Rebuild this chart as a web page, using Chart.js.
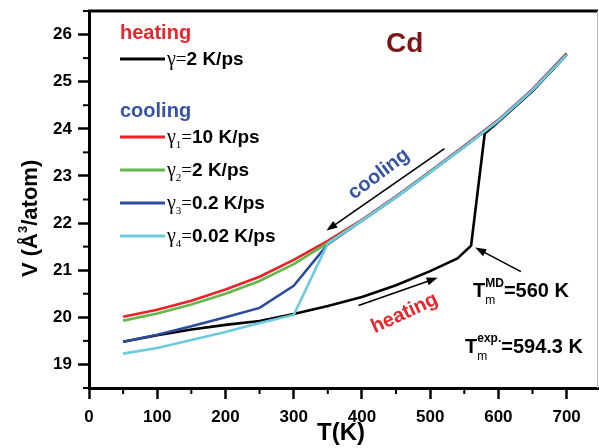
<!DOCTYPE html>
<html>
<head>
<meta charset="utf-8">
<script src="https://cdn.jsdelivr.net/npm/chart.js@4.4.0/dist/chart.umd.min.js"></script>
<style>
html, body { margin: 0; padding: 0; background: #fff; }
</style>
</head>
<body>
<canvas id="chart" width="599" height="448"></canvas>
<script>
// Cd volume vs temperature, heating and cooling runs
const X_TICKS = [0, 100, 200, 300, 400, 500, 600, 700];
const X_MINOR = [50, 150, 250, 350, 450, 550, 650];
const Y_TICKS = [19, 20, 21, 22, 23, 24, 25, 26];
const Y_MINOR = [18.5, 19.5, 20.5, 21.5, 22.5, 23.5, 24.5, 25.5, 26.5];

const T_HEAT = [50, 100, 150, 200, 250, 300, 350, 400, 450, 500, 540, 560, 580, 600, 650, 700];
const V_HEAT = [19.48, 19.62, 19.74, 19.84, 19.92, 20.07, 20.24, 20.43, 20.68, 20.98, 21.25, 21.52, 23.9, 24.15, 24.8, 25.57];

const T_COOL = [50, 100, 150, 200, 250, 300, 350, 400, 450, 500, 550, 600, 650, 700];
const V_RED = [20.01, 20.16, 20.35, 20.59, 20.86, 21.22, 21.62, 22.07, 22.57, 23.1, 23.64, 24.19, 24.84, 25.6];
const V_GREEN = [19.93, 20.08, 20.27, 20.5, 20.77, 21.13, 21.58, 22.05, 22.55, 23.08, 23.62, 24.17, 24.82, 25.58];
const V_BLUE = [19.48, 19.63, 19.81, 20.0, 20.2, 20.67, 21.55, 22.05, 22.55, 23.08, 23.62, 24.17, 24.82, 25.58];
const V_CYAN = [19.23, 19.35, 19.52, 19.69, 19.88, 20.05, 21.57, 22.05, 22.55, 23.08, 23.62, 24.17, 24.82, 25.57];

const LEGEND_SUBS = ["", "1", "2", "3", "4"];
const LEGEND_RATES = ["2 K/ps", "10 K/ps", "2 K/ps", "0.2 K/ps", "0.02 K/ps"];
const LEGEND_COLORS = ["#000000", "#ee2029", "#62b846", "#2c4b9d", "#6ccbdd"];

const FONT = "Arial, 'Liberation Sans', sans-serif";
const SERIF = "'Liberation Serif', 'Times New Roman', serif";
const RED_TXT = "#e8262d";
const BLUE_TXT = "#3753a6";

function pts(xs, ys) {
  return xs.map((x, i) => ({ x: x, y: ys[i] }));
}

function drawRich(ctx, x, y, parts) {
  parts.forEach((p) => {
    ctx.font = p.font;
    ctx.fillStyle = p.color || "#000";
    ctx.fillText(p.t, x, y + (p.dy || 0));
    if (!p.stay) x += ctx.measureText(p.t).width;
  });
  return x;
}

function arrow(ctx, x1, y1, x2, y2) {
  const a = Math.atan2(y2 - y1, x2 - x1);
  const len = 11, half = 4;
  ctx.strokeStyle = "#000";
  ctx.lineWidth = 1.6;
  ctx.beginPath();
  ctx.moveTo(x1, y1);
  ctx.lineTo(x2 - Math.cos(a) * len * 0.8, y2 - Math.sin(a) * len * 0.8);
  ctx.stroke();
  ctx.fillStyle = "#000";
  ctx.beginPath();
  ctx.moveTo(x2, y2);
  ctx.lineTo(x2 - Math.cos(a) * len - Math.sin(a) * half, y2 - Math.sin(a) * len + Math.cos(a) * half);
  ctx.lineTo(x2 - Math.cos(a) * len + Math.sin(a) * half, y2 - Math.sin(a) * len - Math.cos(a) * half);
  ctx.closePath();
  ctx.fill();
}

const decor = {
  id: "decor",
  afterDraw(chart) {
    const ctx = chart.ctx;
    const xs = chart.scales.x, ys = chart.scales.y;
    const a = chart.chartArea;
    ctx.save();

    // minor ticks
    ctx.strokeStyle = "#000";
    ctx.lineWidth = 2;
    X_MINOR.forEach((v) => {
      const px = xs.getPixelForValue(v);
      ctx.beginPath();
      ctx.moveTo(px, a.bottom);
      ctx.lineTo(px, a.bottom + 6);
      ctx.stroke();
    });
    Y_MINOR.forEach((v) => {
      const py = ys.getPixelForValue(v);
      ctx.beginPath();
      ctx.moveTo(a.left, py);
      ctx.lineTo(a.left - 6, py);
      ctx.stroke();
    });

    // frame top and right
    ctx.lineWidth = 3;
    ctx.beginPath();
    ctx.moveTo(a.left - 1, a.top);
    ctx.lineTo(a.right, a.top);
    ctx.stroke();
    ctx.strokeStyle = "#b8b8b8";
    ctx.lineWidth = 1;
    ctx.beginPath();
    ctx.moveTo(a.right - 0.5, a.top);
    ctx.lineTo(a.right - 0.5, a.bottom);
    ctx.stroke();

    // legend
    ctx.textBaseline = "alphabetic";
    const bold = "bold 19px " + FONT;
    drawRich(ctx, 120, 39, [{ t: "heating", font: "bold 20px " + FONT, color: RED_TXT }]);
    drawRich(ctx, 120, 117, [{ t: "cooling", font: "bold 20px " + FONT, color: BLUE_TXT }]);
    const rowY = [59, 137, 170, 203, 236];
    rowY.forEach((y, i) => {
      ctx.strokeStyle = LEGEND_COLORS[i];
      ctx.lineWidth = 3;
      ctx.beginPath();
      ctx.moveTo(120, y);
      ctx.lineTo(165, y);
      ctx.stroke();
      const parts = [{ t: "\u03b3", font: "20px " + SERIF }];
      if (LEGEND_SUBS[i]) parts.push({ t: LEGEND_SUBS[i], font: "11px " + SERIF, dy: 5 });
      parts.push({ t: "=", font: "19px " + SERIF });
      parts.push({ t: LEGEND_RATES[i], font: bold });
      drawRich(ctx, 167, y + 6, parts);
    });

    // title
    drawRich(ctx, 386, 52, [{ t: "Cd", font: "bold 28px " + FONT, color: "#7d1518" }]);

    // arrows
    arrow(ctx, xs.getPixelForValue(521), ys.getPixelForValue(23.58), xs.getPixelForValue(348), ys.getPixelForValue(21.84));
    arrow(ctx, xs.getPixelForValue(395), ys.getPixelForValue(20.25), xs.getPixelForValue(511), ys.getPixelForValue(20.84));
    arrow(ctx, xs.getPixelForValue(633), ys.getPixelForValue(20.97), xs.getPixelForValue(566), ys.getPixelForValue(21.48));

    // rotated labels
    ctx.textAlign = "center";
    ctx.save();
    ctx.translate(378, 173);
    ctx.rotate(-37 * Math.PI / 180);
    ctx.font = "bold 20px " + FONT;
    ctx.fillStyle = BLUE_TXT;
    ctx.fillText("cooling", 0, 7);
    ctx.restore();
    ctx.save();
    ctx.translate(404, 312);
    ctx.rotate(-25 * Math.PI / 180);
    ctx.font = "bold 20px " + FONT;
    ctx.fillStyle = RED_TXT;
    ctx.fillText("heating", 0, 7);
    ctx.restore();
    ctx.textAlign = "left";

    // melting temperatures
    const b20 = "bold 20px " + FONT, b12 = "bold 12px " + FONT;
    drawRich(ctx, 473, 297, [
      { t: "T", font: b20 },
      { t: "m", font: "12px " + FONT, dy: 7, stay: true },
      { t: "MD", font: b12, dy: -10 },
      { t: "=560 K", font: b20 },
    ]);
    drawRich(ctx, 465, 353, [
      { t: "T", font: b20 },
      { t: "m", font: "12px " + FONT, dy: 7, stay: true },
      { t: "exp.", font: b12, dy: -11 },
      { t: "=594.3 K", font: b20 },
    ]);

    // axis titles
    ctx.textAlign = "center";
    ctx.font = "bold 24px " + FONT;
    ctx.fillStyle = "#000";
    ctx.fillText("T(K)", 341, 440);
    ctx.textAlign = "left";
    ctx.save();
    ctx.translate(37, 277);
    ctx.rotate(-Math.PI / 2);
    drawRich(ctx, 0, 0, [
      { t: "V (\u00c5", font: "bold 22px " + FONT },
      { t: "3", font: "bold 13px " + FONT, dy: -10 },
      { t: "/atom)", font: "bold 22px " + FONT },
    ]);
    ctx.restore();

    ctx.restore();
  },
};

const tickFont = { family: FONT, size: 17, weight: "bold" };

const chart = new Chart(document.getElementById("chart").getContext("2d"), {
  type: "line",
  data: {
    datasets: [
      { label: "heating", data: pts(T_HEAT, V_HEAT), borderColor: LEGEND_COLORS[0], order: 4 },
      { label: "g1", data: pts(T_COOL, V_RED), borderColor: LEGEND_COLORS[1], order: 3 },
      { label: "g2", data: pts(T_COOL, V_GREEN), borderColor: LEGEND_COLORS[2], order: 2 },
      { label: "g3", data: pts(T_COOL, V_BLUE), borderColor: LEGEND_COLORS[3], order: 1 },
      { label: "g4", data: pts(T_COOL, V_CYAN), borderColor: LEGEND_COLORS[4], order: 0 },
    ],
  },
  options: {
    responsive: false,
    animation: false,
    devicePixelRatio: 1,
    layout: { padding: { top: 11, right: 1, left: 0, bottom: 0 } },
    plugins: { legend: { display: false }, tooltip: { enabled: false } },
    elements: {
      point: { radius: 0 },
      line: { tension: 0, borderWidth: 2.6, fill: false },
    },
    scales: {
      x: {
        type: "linear",
        min: 0,
        max: 746,
        afterBuildTicks: (s) => { s.ticks = X_TICKS.map((v) => ({ value: v })); },
        afterFit: (s) => { s.height = 60; s.paddingLeft = 0; s.paddingRight = 0; },
        ticks: { font: tickFont, color: "#000", padding: 8, maxRotation: 0, autoSkip: false },
        grid: { drawOnChartArea: false, tickLength: 11, tickWidth: 2.5, tickColor: "#000" },
        border: { width: 3, color: "#000" },
      },
      y: {
        type: "linear",
        min: 18.5,
        max: 26.5,
        afterBuildTicks: (s) => { s.ticks = Y_TICKS.map((v) => ({ value: v })); },
        afterFit: (s) => { s.width = 89; s.paddingTop = 0; s.paddingBottom = 0; },
        ticks: { font: tickFont, color: "#000", padding: 6, autoSkip: false },
        grid: { drawOnChartArea: false, tickLength: 11, tickWidth: 2.5, tickColor: "#000" },
        border: { width: 3, color: "#000" },
      },
    },
  },
  plugins: [decor],
});
</script>
</body>
</html>
